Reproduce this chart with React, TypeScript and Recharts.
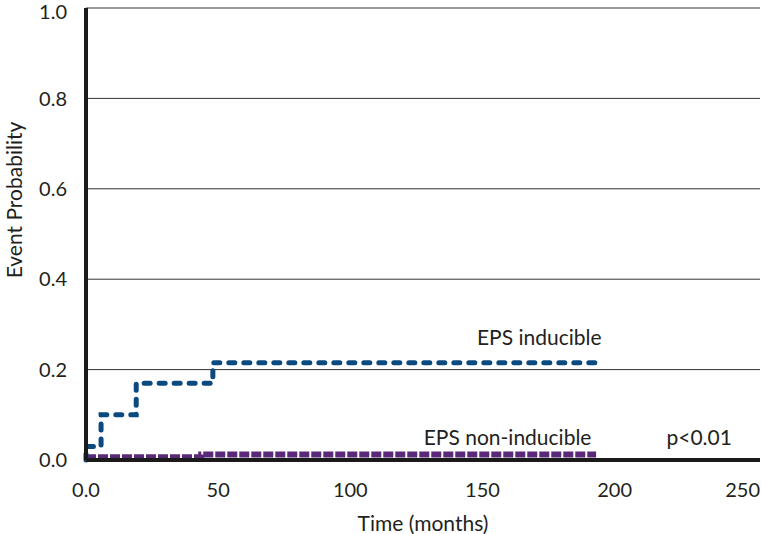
import React from 'react'
import {
  LineChart,
  Line,
  XAxis,
  YAxis,
  CartesianGrid,
  ReferenceDot,
} from 'recharts'

// Kaplan-Meier style step curves (time in months, event probability)
const inducible = [
  { t: 0, v: 0 },
  { t: 0, v: 0.03 },
  { t: 5.7, v: 0.1 },
  { t: 19, v: 0.17 },
  { t: 48, v: 0.215 },
  { t: 195, v: 0.215 },
]

const nonInducible = [
  { t: 0, v: 0.006 },
  { t: 43.6, v: 0.012 },
  { t: 193, v: 0.012 },
]

const xTicks = [0, 50, 100, 150, 200, 250]
const yTicks = [0, 0.2, 0.4, 0.6, 0.8, 1.0]

const annotations = [
  { t: 171.5, v: 0.27, text: 'EPS inducible' },
  { t: 159.5, v: 0.049, text: 'EPS non-inducible' },
  { t: 232, v: 0.049, text: 'p<0.01' },
]

const FONT = 'Lato, "Open Sans", sans-serif'
const FS = 21
const TICK_FS = 20
const TEXT = '#231f20'
const BLUE = '#0b4a7f'
const PURPLE = '#5a2878'

// eslint-disable-next-line @typescript-eslint/no-explicit-any
const XTick = ({ x, y, payload }: any) => {
  const last = payload.value === xTicks[xTicks.length - 1]
  return (
    <text
      x={last ? Math.min(x + 15, 760) : x}
      y={y + 14}
      textAnchor={last ? 'end' : 'middle'}
      fill={TEXT}
      fontSize={TICK_FS}
      fontFamily={FONT}
    >
      {payload.value === 0 ? '0.0' : String(payload.value)}
    </text>
  )
}

// eslint-disable-next-line @typescript-eslint/no-explicit-any
const YLabel = ({ viewBox }: any) => {
  const x = viewBox.x + 13
  const y = viewBox.y + viewBox.height / 2 - 34
  return (
    <text
      x={x}
      y={y}
      transform={`rotate(-90, ${x}, ${y})`}
      textAnchor="middle"
      dominantBaseline="central"
      fill={TEXT}
      fontSize={FS}
      fontFamily={FONT}
    >
      Event Probability
    </text>
  )
}

// eslint-disable-next-line @typescript-eslint/no-explicit-any
const XLabel = ({ viewBox }: any) => (
  <text
    x={viewBox.x + viewBox.width / 2}
    y={viewBox.y + 62}
    textAnchor="middle"
    dominantBaseline="central"
    fill={TEXT}
    fontSize={FS}
    fontFamily={FONT}
  >
    Time (months)
  </text>
)

export default function App() {
  return (
    <div style={{ position: 'absolute', left: 0, top: 0, fontFamily: FONT }}>
      <LineChart
        width={762}
        height={534}
        margin={{ top: 8, right: 2, left: 0, bottom: 0 }}
      >
        <CartesianGrid vertical={false} stroke="#333" strokeWidth={1} />
        <XAxis
          type="number"
          dataKey="t"
          domain={[0, 255]}
          ticks={xTicks}
          height={74}
          tickLine={false}
          tickMargin={17}
          axisLine={{ stroke: '#1a1a1a', strokeWidth: 4 }}
          tick={<XTick />}
          label={<XLabel />}
        />
        <YAxis
          type="number"
          domain={[0, 1]}
          ticks={yTicks}
          tickFormatter={(v) => v.toFixed(1)}
          width={86}
          tickLine={false}
          tickMargin={13}
          axisLine={{ stroke: '#1a1a1a', strokeWidth: 4 }}
          tick={{ fill: TEXT, fontSize: TICK_FS, fontFamily: FONT }}
          label={<YLabel />}
        />
        <Line
          data={nonInducible}
          dataKey="v"
          type="stepAfter"
          stroke={PURPLE}
          strokeWidth={6}
          strokeDasharray="10 2"
          dot={false}
          activeDot={false}
          isAnimationActive={false}
        />
        <Line
          data={inducible}
          dataKey="v"
          type="stepAfter"
          stroke={BLUE}
          strokeWidth={5}
          strokeDasharray="6 9"
          strokeLinecap="round"
          dot={false}
          activeDot={false}
          isAnimationActive={false}
        />
        {annotations.map((a) => (
          <ReferenceDot
            key={a.text}
            x={a.t}
            y={a.v}
            r={0}
            stroke="none"
            fill="none"
            label={{
              value: a.text,
              position: 'center',
              fill: TEXT,
              fontSize: FS,
              fontFamily: FONT,
            }}
          />
        ))}
      </LineChart>
    </div>
  )
}
